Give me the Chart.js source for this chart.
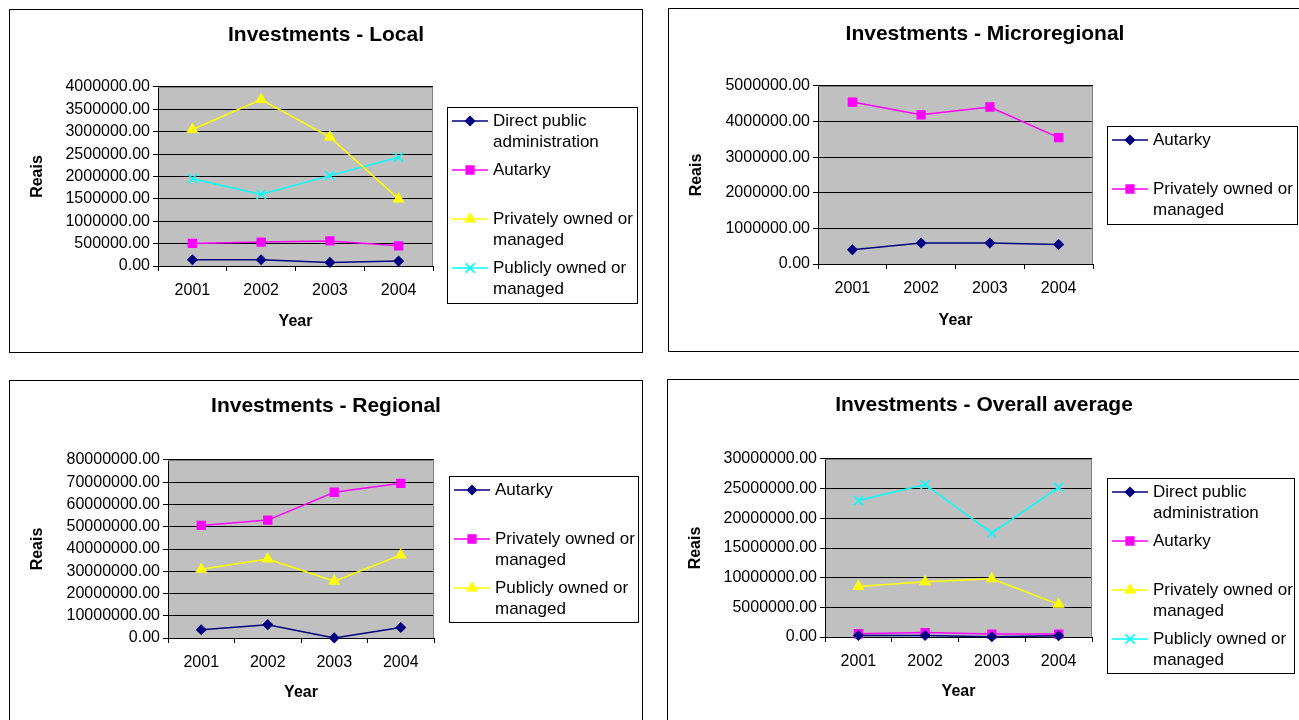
<!DOCTYPE html>
<html>
<head>
<meta charset="utf-8">
<title>Investments</title>
<script src="https://cdn.jsdelivr.net/npm/chart.js@4.4.1/dist/chart.umd.min.js"></script>
<style>
  html, body { margin: 0; padding: 0; background: #fff; overflow: hidden; }
  body { width: 1299px; height: 720px; position: relative; }
  .panel { position: absolute; border: 1px solid #000; width: 632px; height: 342px; background: #fff; }
  .panel canvas { display: block; }
</style>
</head>
<body>
<div class="panel" style="left:9px;top:9px"><canvas id="local" width="632" height="342"></canvas></div>
<div class="panel" style="left:668px;top:8px"><canvas id="micro" width="632" height="342"></canvas></div>
<div class="panel" style="left:9px;top:380px"><canvas id="regional" width="632" height="342"></canvas></div>
<div class="panel" style="left:667px;top:379px"><canvas id="overall" width="632" height="342"></canvas></div>

<script>
// ---- data ----
const years = ['2001', '2002', '2003', '2004'];

// Local
const localLabels = ['Direct public administration', 'Autarky', 'Privately owned or managed', 'Publicly owned or managed'];
const localDirect = [140000, 140000, 80000, 110000];
const localAutarky = [505000, 535000, 560000, 450000];
const localPrivate = [3050000, 3720000, 2880000, 1500000];
const localPublic = [1950000, 1600000, 2020000, 2430000];

// Microregional (legend as shown in the original)
const microLabels = ['Autarky', 'Privately owned or managed'];
const microAutarky = [400000, 590000, 590000, 550000];
const microPrivate = [4550000, 4190000, 4410000, 3550000];

// Regional (legend as shown in the original)
const regionalLabels = ['Autarky', 'Privately owned or managed', 'Publicly owned or managed'];
const regionalAutarky = [3700000, 6000000, 50000, 4700000];
const regionalPrivate = [50600000, 53000000, 65500000, 69500000];
const regionalPublic = [30900000, 35500000, 25500000, 37300000];

// Overall average
const overallLabels = ['Direct public administration', 'Autarky', 'Privately owned or managed', 'Publicly owned or managed'];
const overallDirect = [250000, 250000, 50000, 200000];
const overallAutarky = [550000, 750000, 500000, 500000];
const overallPrivate = [8500000, 9300000, 9800000, 5500000];
const overallPublic = [23000000, 25700000, 17500000, 25200000];

// ---- styles ----
const FONT = '"Liberation Sans", Arial, Helvetica, sans-serif';
Chart.defaults.font.family = FONT;
Chart.defaults.color = '#000';

const navyStyle = { color: '#000080', pointStyle: 'rectRot', radius: 4.5 };
const magentaStyle = { color: '#FF00FF', pointStyle: 'rect', radius: 5.5 };
const yellowStyle = { color: '#FFFF00', pointStyle: 'triangle', radius: 5.5 };
const cyanStyle = { color: '#00FFFF', pointStyle: 'crossRot', radius: 6.5 };

function makeDataset(label, data, st) {
  return {
    label: label,
    data: data,
    borderColor: st.color,
    backgroundColor: st.color,
    borderWidth: 1.5,
    pointStyle: st.pointStyle,
    pointRadius: st.radius,
    pointHoverRadius: st.radius,
    pointBackgroundColor: st.color,
    pointBorderColor: st.color,
    pointBorderWidth: 1.5,
    tension: 0,
    clip: false
  };
}

// gray plot area with a gray frame on top / right
const plotBackground = {
  id: 'plotBackground',
  beforeDraw(chart) {
    const a = chart.chartArea, ctx = chart.ctx;
    ctx.save();
    ctx.fillStyle = '#C0C0C0';
    ctx.fillRect(a.left, a.top, a.right - a.left, a.bottom - a.top);
    ctx.restore();
  },
  beforeDatasetsDraw(chart) {
    const a = chart.chartArea, ctx = chart.ctx;
    ctx.save();
    ctx.strokeStyle = '#808080';
    ctx.lineWidth = 1;
    ctx.beginPath();
    ctx.moveTo(a.left, Math.round(a.top) + 0.5);
    ctx.lineTo(Math.round(a.right) - 0.5, Math.round(a.top) + 0.5);
    ctx.lineTo(Math.round(a.right) - 0.5, a.bottom);
    ctx.stroke();
    ctx.restore();
  }
};

// boxed legend with wrapped labels, like the spreadsheet one
const boxLegend = {
  id: 'boxLegend',
  afterDraw(chart, args, opts) {
    const ctx = chart.ctx;
    ctx.save();
    ctx.strokeStyle = '#000';
    ctx.lineWidth = 1;
    ctx.strokeRect(opts.left + 0.5, opts.top + 0.5, opts.right - opts.left, opts.bottom - opts.top);

    ctx.font = '17px ' + FONT;
    ctx.textBaseline = 'middle';
    ctx.textAlign = 'left';
    const textX = opts.left + 46;
    const maxW = opts.right - textX - 1;

    chart.data.datasets.forEach((ds, i) => {
      const y = opts.top + 14 + i * 49;
      ctx.strokeStyle = ds.borderColor;
      ctx.lineWidth = ds.borderWidth;
      ctx.beginPath();
      ctx.moveTo(opts.left + 5, y);
      ctx.lineTo(opts.left + 41, y);
      ctx.stroke();

      ctx.fillStyle = ds.pointBackgroundColor;
      ctx.strokeStyle = ds.pointBorderColor;
      ctx.lineWidth = ds.pointBorderWidth;
      Chart.helpers.drawPoint(ctx, {
        pointStyle: ds.pointStyle, radius: ds.pointRadius, rotation: 0, borderWidth: ds.pointBorderWidth
      }, opts.left + 23, y);

      // word wrap
      const words = ds.label.split(' ');
      const lines = [];
      let cur = '';
      words.forEach(w => {
        const t = cur ? cur + ' ' + w : w;
        if (ctx.measureText(t).width > maxW && cur) {
          lines.push(cur);
          cur = w;
        } else {
          cur = t;
        }
      });
      lines.push(cur);
      ctx.fillStyle = '#000';
      lines.forEach((ln, k) => ctx.fillText(ln, textX, y + k * 21));
    });
    ctx.restore();
  }
};

Chart.register(plotBackground, boxLegend);

// one panel: area = plot rectangle inside the canvas, box = legend frame
function makeChart(id, title, datasets, yMax, yStep, area, box) {
  const canvas = document.getElementById(id);
  const H = canvas.height, W = canvas.width;
  const titleSize = 21, titleLh = titleSize * 1.2;
  const titleCenter = 25;
  const tTop = titleCenter - titleLh / 2;
  const tBottom = area.top - tTop - titleLh;

  return new Chart(canvas.getContext('2d'), {
    type: 'line',
    data: { labels: years, datasets: datasets },
    options: {
      responsive: false,
      animation: false,
      devicePixelRatio: 1,
      events: [],
      layout: { padding: 0 },
      plugins: {
        legend: { display: false },
        tooltip: { enabled: false },
        title: {
          display: true,
          text: title,
          color: '#000',
          font: { size: titleSize, weight: 'bold' },
          padding: { top: tTop, bottom: tBottom }
        },
        boxLegend: box
      },
      scales: {
        x: {
          type: 'category',
          offset: true,
          grid: { offset: true, drawOnChartArea: false, drawTicks: true, tickLength: 5, color: '#000' },
          border: { color: '#000', width: 1 },
          ticks: { color: '#000', font: { size: 16 }, padding: 10, maxRotation: 0 },
          title: {
            display: true, text: 'Year', color: '#000',
            font: { size: 16, weight: 'bold' },
            padding: { top: 0, bottom: 21 }
          },
          afterFit: s => { s.height = H - area.bottom; }
        },
        y: {
          min: 0,
          max: yMax,
          grid: { color: '#000', tickLength: 5, lineWidth: 1 },
          border: { color: '#000', width: 1 },
          ticks: {
            stepSize: yStep, color: '#000', font: { size: 16 }, padding: 3,
            callback: v => Number(v).toFixed(2)
          },
          title: {
            display: true, text: 'Reais', color: '#000',
            font: { size: 16, weight: 'bold' },
            padding: { top: 18, bottom: 0 }
          },
          afterFit: s => { s.width = area.left; }
        },
        // empty right-hand box that keeps room for the legend
        // (so the title stays centred on the whole panel)
        room: {
          type: 'linear',
          position: 'right',
          display: true,
          grid: { display: false, drawTicks: false },
          border: { display: false },
          ticks: { display: false },
          afterFit: s => { s.width = W - area.right; }
        }
      }
    }
  });
}

makeChart('local', 'Investments - Local', [
  makeDataset(localLabels[0], localDirect, navyStyle),
  makeDataset(localLabels[1], localAutarky, magentaStyle),
  makeDataset(localLabels[2], localPrivate, yellowStyle),
  makeDataset(localLabels[3], localPublic, cyanStyle)
], 4000000, 500000,
  { left: 148, right: 423, top: 77, bottom: 256 },
  { left: 437, right: 627, top: 97, bottom: 293 });

makeChart('micro', 'Investments - Microregional', [
  makeDataset(microLabels[0], microAutarky, navyStyle),
  makeDataset(microLabels[1], microPrivate, magentaStyle)
], 5000000, 1000000,
  { left: 149, right: 424, top: 77, bottom: 255 },
  { left: 438, right: 628, top: 117, bottom: 215 });

makeChart('regional', 'Investments - Regional', [
  makeDataset(regionalLabels[0], regionalAutarky, navyStyle),
  makeDataset(regionalLabels[1], regionalPrivate, magentaStyle),
  makeDataset(regionalLabels[2], regionalPublic, yellowStyle)
], 80000000, 10000000,
  { left: 158, right: 424, top: 79, bottom: 257 },
  { left: 439, right: 628, top: 95, bottom: 241 });

makeChart('overall', 'Investments - Overall average', [
  makeDataset(overallLabels[0], overallDirect, navyStyle),
  makeDataset(overallLabels[1], overallAutarky, magentaStyle),
  makeDataset(overallLabels[2], overallPrivate, yellowStyle),
  makeDataset(overallLabels[3], overallPublic, cyanStyle)
], 30000000, 5000000,
  { left: 157, right: 424, top: 79, bottom: 257 },
  { left: 439, right: 626, top: 98, bottom: 293 });
</script>
</body>
</html>
